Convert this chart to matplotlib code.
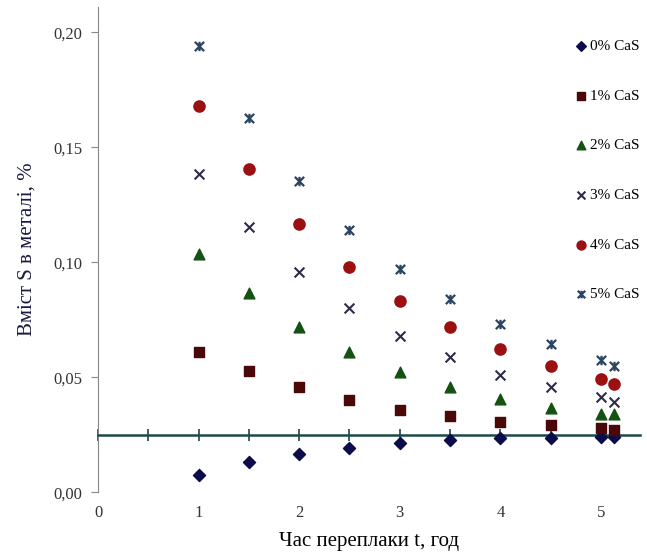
import matplotlib
matplotlib.use("Agg")
import matplotlib.pyplot as plt
from matplotlib.path import Path
from matplotlib.ticker import MultipleLocator, FuncFormatter, FixedLocator

plt.rcParams['font.family'] = ['Liberation Serif', 'DejaVu Serif']

# time of remelting, h
t = [1, 1.5, 2, 2.5, 3, 3.5, 4, 4.5, 5, 5.13]

# sulphur content in metal, %
s0 = [0.0074, 0.0131, 0.0166, 0.0192, 0.0214, 0.0227, 0.0235, 0.0236, 0.0240, 0.0240]
s1 = [0.0610, 0.0527, 0.0458, 0.0401, 0.0357, 0.0331, 0.0305, 0.0292, 0.0279, 0.0270]
s2 = [0.1037, 0.0867, 0.0719, 0.0610, 0.0523, 0.0458, 0.0405, 0.0366, 0.0340, 0.0340]
s3 = [0.1386, 0.1155, 0.0959, 0.0802, 0.0680, 0.0588, 0.0510, 0.0458, 0.0414, 0.0392]
s4 = [0.1682, 0.1407, 0.1168, 0.0980, 0.0832, 0.0719, 0.0623, 0.0549, 0.0492, 0.0471]
s5 = [0.1939, 0.1630, 0.1355, 0.1142, 0.0972, 0.0841, 0.0732, 0.0645, 0.0575, 0.0549]

labels = ['0% CaS', '1% CaS', '2% CaS', '3% CaS', '4% CaS', '5% CaS']
level = 0.025  # horizontal axis crossing

# excel-like star: an x with a vertical stroke
star = Path([(-1, -1), (1, 1), (-1, 1), (1, -1), (0, -1), (0, 1)],
            [Path.MOVETO, Path.LINETO, Path.MOVETO, Path.LINETO, Path.MOVETO, Path.LINETO])

fig = plt.figure(figsize=(6.47, 5.53), dpi=100)
ax = fig.add_axes([0.1515, 0.110, 0.838, 0.877])

ax.scatter(t, s0, marker='D', s=38, color='#0c0c4a', label=labels[0], zorder=3)
ax.scatter(t, s1, marker='s', s=60, color='#4a0808', label=labels[1], zorder=3)
ax.scatter(t, s2, marker='^', s=60, color='#145214', label=labels[2], zorder=3)
ax.scatter(t, s3, marker='x', s=50, color='#2c2c48', linewidths=1.5, label=labels[3], zorder=3)
ax.scatter(t, s4, marker='o', s=65, color='#9b1010', label=labels[4], zorder=3)
ax.scatter(t, s5, marker=star, s=45, color='#2a4560', linewidths=1.6, label=labels[5], zorder=3)

ax.set_xlim(0, 5.39)
ax.set_ylim(0, 0.211)

for side in ['top', 'right']:
    ax.spines[side].set_visible(False)
ax.spines['left'].set_color('#888888')
ax.spines['bottom'].set_position(('data', level))
ax.spines['bottom'].set_color('#1d4a48')
ax.spines['bottom'].set_linewidth(1.8)

ax.xaxis.set_major_locator(MultipleLocator(0.5))
ax.tick_params(axis='x', direction='inout', length=9, width=1.2, color='#1d4a48', labelbottom=False)
ax.yaxis.set_major_locator(MultipleLocator(0.05))
ax.yaxis.set_major_formatter(FuncFormatter(lambda v, p: f'{v:.2f}'.replace('.', ',')))
ax.tick_params(axis='y', direction='out', length=5, color='#888888', labelsize=12, pad=6, labelcolor='#333333')

sec = ax.secondary_xaxis(0)
sec.xaxis.set_major_locator(FixedLocator([0, 1, 2, 3, 4, 5]))
sec.spines['bottom'].set_visible(False)
sec.tick_params(axis='x', length=0, labelsize=12, pad=9, labelcolor='#333333')
sec.set_xlabel('Час переплаки t, год', fontsize=15, labelpad=8)

ax.set_ylabel('Вміст S в металі, %', fontsize=15, color='#1a1a40', labelpad=12)

leg = ax.legend(loc='upper right', bbox_to_anchor=(1.01, 0.946), frameon=False, fontsize=11,
                handlelength=0.6, handletextpad=0.3, labelspacing=2.35, borderaxespad=0,
                markerscale=0.8)

fig.savefig('out.png', dpi=100)
